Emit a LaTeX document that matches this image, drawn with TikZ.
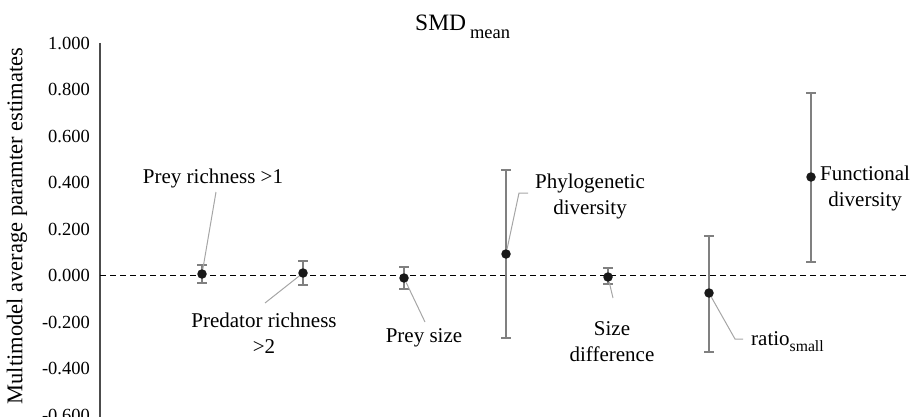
\documentclass[tikz,border=0pt]{standalone}
\usepackage{fontspec}
\setmainfont{Liberation Serif}
\begin{document}
\begin{tikzpicture}[x=1pt,y=-1pt,
  lbl/.style={font=\fontsize{21}{26}\selectfont, inner sep=0pt, align=center},
  ticklbl/.style={font=\fontsize{18.5}{22}\selectfont, anchor=east, inner sep=0pt},
  ebar/.style={draw=black!50, line width=1.5pt},
  lead/.style={draw=black!35, line width=1pt},
  dot/.style={circle, fill=black!90, inner sep=0pt, minimum size=9.5pt}]
\useasboundingbox (0,0) rectangle (910,417);
\newcommand\errbarx[3]{\draw[ebar] (#1-5,#2) -- (#1+5,#2) (#1,#2) -- (#1,#3) (#1-5,#3) -- (#1+5,#3);}
% title
\node[inner sep=0pt, anchor=base west] (title) at (415,31) {\fontsize{23.5}{28}\selectfont SMD\,\raisebox{-8pt}{\fontsize{18.5}{20}\selectfont mean}};
% y axis label
\node[inner sep=0pt, rotate=90, font=\fontsize{22.5}{26}\selectfont] (ylab) at (17,226) {Multimodel average paramter estimates};
% axis
\draw[black!70, line width=1.5pt] (100,43) -- (100,417);
\foreach \t [count=\i from 0] in {1.000,0.800,0.600,0.400,0.200,0.000,-0.200,-0.400,-0.600}
  \node[ticklbl] (t\i) at (90,43+46.5*\i) {\t};
% zero line
\draw[black, line width=1.2pt, dash pattern=on 6pt off 4pt] (100,275.5) -- (910,275.5);
% error bars
\errbarx{202}{265}{283}
\errbarx{303}{261}{285}
\errbarx{404}{267}{289}
\errbarx{506}{170}{338}
\errbarx{608}{268}{284}
\errbarx{709}{236}{352}
\errbarx{811}{93}{262}
% points
\node[dot] (p1) at (202,274) {};
\node[dot] (p2) at (303,273) {};
\node[dot] (p3) at (404,278) {};
\node[dot] (p4) at (506,254) {};
\node[dot] (p5) at (608,277) {};
\node[dot] (p6) at (709,293) {};
\node[dot] (p7) at (811,177) {};
% labels
\node[lbl] (n1) at (213,178) {Prey richness >1};
\node[lbl] (n2) at (264,333) {Predator richness\\>2};
\node[lbl] (n3) at (424,338) {Prey size};
\node[lbl] (n4) at (590,196) {Phylogenetic\\diversity};
\node[lbl] (n5) at (612,342) {Size\\difference};
\node[lbl, anchor=west] (n6) at (751,342) {ratio\raisebox{-6pt}{\fontsize{15.7}{18}\selectfont small}};
\node[lbl, anchor=west] (n7) at (820,188) {Functional\\diversity};
% leaders
\coordinate (c1) at (216,192);
\coordinate (c2) at (265,303);
\coordinate (c3) at (425,322);
\coordinate (c4a) at (528,193);
\coordinate (c4b) at (519,193);
\coordinate (c5) at (613,298);
\coordinate (c6a) at (743,339);
\coordinate (c6b) at (735,339);
\draw[lead] (c1) -- (p1);
\draw[lead] (c2) -- (p2);
\draw[lead] (c3) -- (p3);
\draw[lead] (c4a) -- (c4b) -- (p4);
\draw[lead] (c5) -- (p5);
\draw[lead] (c6a) -- (c6b) -- (p6);
\end{tikzpicture}
\end{document}
